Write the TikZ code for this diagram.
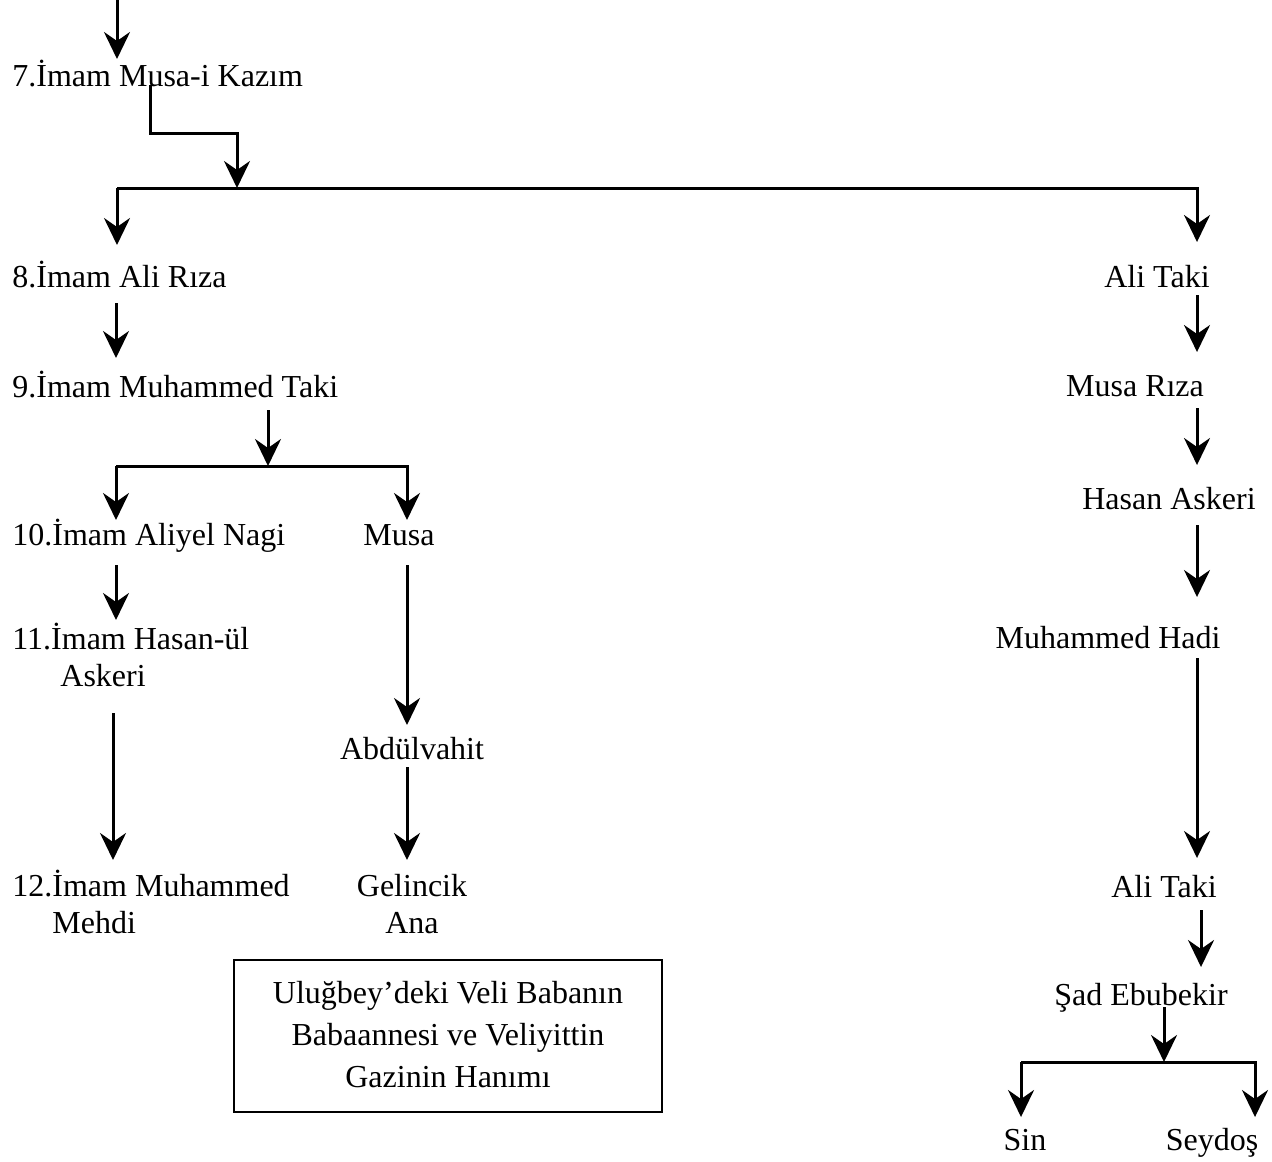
\documentclass[tikz,border=0pt]{standalone}
\usepackage{fontspec}
\setmainfont{Liberation Serif}
\usetikzlibrary{arrows.meta}

\begin{document}
\begin{tikzpicture}[x=0.5pt,y=-0.5pt,
  lbl/.style={inner sep=0pt,font=\fontsize{16pt}{18.5pt}\selectfont},
  arr/.style={line width=1.5pt,-{Stealth[length=13.5pt,width=13pt,inset=4.5pt]}}]
\useasboundingbox (0,0) rectangle (1272,1161);

% names
\node[lbl,anchor=base west] (imam7) at (12,87) {7.İmam Musa-i Kazım};
\node[lbl,anchor=base west] (imam8) at (12,287) {8.İmam Ali Rıza};
\node[lbl,anchor=base east] (alitaki) at (1210,287) {Ali Taki};
\node[lbl,anchor=base west] (imam9) at (12,397) {9.İmam Muhammed Taki};
\node[lbl,anchor=base] (musariza) at (1135,396) {Musa Rıza};
\node[lbl,anchor=base] (hasanaskeri) at (1169,509) {Hasan Askeri};
\node[lbl,anchor=base west] (imam10) at (12,545) {10.İmam Aliyel Nagi};
\node[lbl,anchor=base] (musa) at (399,545) {Musa};
\node[lbl,anchor=base] (muhhadi) at (1108,648) {Muhammed Hadi};
\node[lbl,anchor=base west,align=left] (imam11) at (12,686) {11.İmam Hasan-ül\\\hspace*{24pt}Askeri};
\node[lbl,anchor=base] (abdulvahit) at (412,759) {Abdülvahit};
\node[lbl,anchor=base west,align=left] (imam12) at (12,933) {12.İmam Muhammed\\\hspace*{20pt}Mehdi};
\node[lbl,anchor=base,align=center] (gelincik) at (412,933) {Gelincik\\Ana};
\node[lbl,anchor=base] (alitakii) at (1164,897) {Ali Taki};
\node[lbl,anchor=base] (sadebubekir) at (1141,1005) {Şad Ebubekir};
\node[lbl,anchor=base] (sin) at (1025,1150) {Sin};
\node[lbl,anchor=base] (seydos) at (1212,1150) {Seydoş};
\node[draw,line width=1pt,minimum width=214pt,minimum height=76pt,inner sep=0pt,
  align=center,font=\fontsize{16pt}{21pt}\selectfont] (note) at (448,1036)
  {Uluğbey’deki Veli Babanın\\Babaannesi ve Veliyittin\\Gazinin Hanımı\rule[-2pt]{0pt}{2pt}};

% arrow ends
\coordinate (in7a) at (117,0);     \coordinate (in7b) at (117,59);
\coordinate (k7a) at (150,85);     \coordinate (k7c) at (237,133);
\coordinate (k7d) at (237,188);
\coordinate (bar1) at (117,188);
\coordinate (to8) at (117,245);    \coordinate (toat) at (1197,242);
\coordinate (a8a) at (116,303);    \coordinate (a8b) at (116,358);
\coordinate (aat1) at (1197,295);  \coordinate (aat2) at (1197,352);
\coordinate (a9a) at (268,410);    \coordinate (a9b) at (268,466);
\coordinate (bar2) at (116,466);
\coordinate (to10) at (116,520);   \coordinate (tomusa) at (407,520);
\coordinate (a10a) at (116,565);   \coordinate (a10b) at (116,620);
\coordinate (amr1) at (1197,408);  \coordinate (amr2) at (1197,465);
\coordinate (amu1) at (407,565);   \coordinate (amu2) at (407,725);
\coordinate (aha1) at (1197,525);  \coordinate (aha2) at (1197,597);
\coordinate (a11a) at (113,713);   \coordinate (a11b) at (113,860);
\coordinate (aab1) at (407,767);   \coordinate (aab2) at (407,860);
\coordinate (amh1) at (1197,658);  \coordinate (amh2) at (1197,858);
\coordinate (aat3) at (1201,910);  \coordinate (aat4) at (1201,967);
\coordinate (asb1) at (1164,1007); \coordinate (asb2) at (1164,1062);
\coordinate (bar3) at (1021,1062);
\coordinate (tosin) at (1021,1117); \coordinate (toseydos) at (1255,1117);

% arrows
\draw[arr] (in7a) -- (in7b);
\draw[arr] (k7a) |- (k7c) -- (k7d);
\draw[arr] (bar1) -- (to8);
\draw[arr] (bar1) -| (toat);
\draw[arr] (a8a) -- (a8b);
\draw[arr] (aat1) -- (aat2);
\draw[arr] (a9a) -- (a9b);
\draw[arr] (bar2) -- (to10);
\draw[arr] (bar2) -| (tomusa);
\draw[arr] (a10a) -- (a10b);
\draw[arr] (amr1) -- (amr2);
\draw[arr] (amu1) -- (amu2);
\draw[arr] (aha1) -- (aha2);
\draw[arr] (a11a) -- (a11b);
\draw[arr] (aab1) -- (aab2);
\draw[arr] (amh1) -- (amh2);
\draw[arr] (aat3) -- (aat4);
\draw[arr] (asb1) -- (asb2);
\draw[arr] (bar3) -- (tosin);
\draw[arr] (bar3) -| (toseydos);
\end{tikzpicture}
\end{document}
